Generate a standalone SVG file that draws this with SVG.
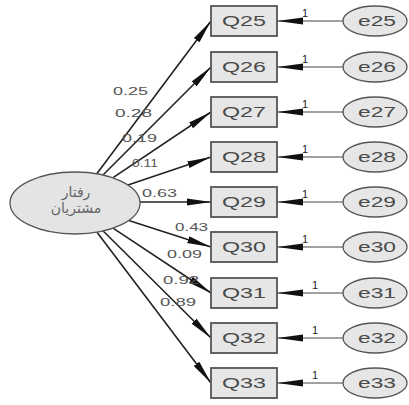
<svg xmlns="http://www.w3.org/2000/svg" width="409" height="405" viewBox="0 0 409 405">
<style>
.box{fill:#e6e6e6;stroke:#555;stroke-width:1.8}
.err{fill:#e6e6e6;stroke:#555;stroke-width:1.3}
.lat{fill:#e4e4e4;stroke:#555;stroke-width:1.3}
.t{font-family:"Liberation Sans",Arial,sans-serif;fill:#555}
.lbl{font-size:10px}
.one{font-size:11px;fill:#222}
.nm{font-size:14px;fill:#4a4a4a}
.fa{font-family:"DejaVu Sans","Noto Sans",sans-serif;font-size:14px;fill:#666;text-anchor:middle}
.pl{stroke:#222;stroke-width:1.6;fill:none;marker-end:url(#ah)}
.el{stroke:#444;stroke-width:1;fill:none;marker-end:url(#ah2)}
</style>
<defs>
<marker id="ah" markerUnits="userSpaceOnUse" markerWidth="26" markerHeight="8" refX="24" refY="4" orient="auto"><path d="M0,0.5 L24,4 L0,7.5 z" fill="#111"/></marker>
<marker id="ah2" markerUnits="userSpaceOnUse" markerWidth="28" markerHeight="8" refX="26" refY="4" orient="auto"><path d="M0,0.5 L26,4 L0,7.5 z" fill="#111"/></marker>
</defs>
<rect width="409" height="405" fill="#fff"/>
<g id="connectors">
<line class="pl" x1="96.8" y1="173.8" x2="211" y2="21"/>
<line class="pl" x1="103" y1="175" x2="211" y2="67"/>
<line class="pl" x1="112.7" y1="177.8" x2="211" y2="112"/>
<line class="pl" x1="128" y1="185.1" x2="211" y2="157"/>
<line class="pl" x1="140" y1="202" x2="211" y2="202"/>
<line class="pl" x1="128.8" y1="220.4" x2="211" y2="247"/>
<line class="pl" x1="113" y1="228.1" x2="211" y2="293"/>
<line class="pl" x1="103.2" y1="231" x2="211" y2="338"/>
<line class="pl" x1="97" y1="232.2" x2="211" y2="383"/>
<line class="el" x1="343" y1="21" x2="277" y2="21"/>
<line class="el" x1="343" y1="67" x2="277" y2="67"/>
<line class="el" x1="343" y1="112" x2="277" y2="112"/>
<line class="el" x1="343" y1="157" x2="277" y2="157"/>
<line class="el" x1="343" y1="202" x2="277" y2="202"/>
<line class="el" x1="343" y1="247" x2="277" y2="247"/>
<line class="el" x1="343" y1="293" x2="277" y2="293"/>
<line class="el" x1="343" y1="338" x2="277" y2="338"/>
<line class="el" x1="343" y1="383" x2="277" y2="383"/>
<g class="t lbl">
<text x="113" y="95" textLength="35" lengthAdjust="spacingAndGlyphs">0.25</text>
<text x="115" y="117" textLength="37" lengthAdjust="spacingAndGlyphs">0.28</text>
<text x="122" y="142" textLength="35" lengthAdjust="spacingAndGlyphs">0.19</text>
<text x="132" y="167" textLength="26" lengthAdjust="spacingAndGlyphs">0.11</text>
<text x="142" y="197" textLength="35" lengthAdjust="spacingAndGlyphs">0.63</text>
<text x="175" y="231" textLength="33" lengthAdjust="spacingAndGlyphs">0.43</text>
<text x="167" y="258" textLength="35" lengthAdjust="spacingAndGlyphs">0.09</text>
<text x="163" y="284" textLength="36" lengthAdjust="spacingAndGlyphs">0.92</text>
<text x="160" y="306" textLength="36" lengthAdjust="spacingAndGlyphs">0.89</text>
</g>
<g class="t one">
<text x="302" y="17">1</text>
<text x="302" y="63">1</text>
<text x="302" y="108">1</text>
<text x="302" y="153">1</text>
<text x="302" y="198">1</text>
<text x="302" y="243">1</text>
<text x="312" y="289">1</text>
<text x="312" y="334">1</text>
<text x="312" y="379">1</text>
</g>
</g>
<g id="latent"><ellipse class="lat" cx="75" cy="203" rx="65" ry="31"/><text class="fa" x="76" y="197">رفتار</text><text class="fa" x="76" y="213">مشتریان</text></g>
<g id="Q25"><rect class="box" x="211" y="6" width="66" height="30"/><text class="t nm" x="222" y="26" textLength="44" lengthAdjust="spacingAndGlyphs">Q25</text></g>
<g id="Q26"><rect class="box" x="211" y="52" width="66" height="30"/><text class="t nm" x="222" y="72" textLength="44" lengthAdjust="spacingAndGlyphs">Q26</text></g>
<g id="Q27"><rect class="box" x="211" y="97" width="66" height="30"/><text class="t nm" x="222" y="117" textLength="44" lengthAdjust="spacingAndGlyphs">Q27</text></g>
<g id="Q28"><rect class="box" x="211" y="142" width="66" height="30"/><text class="t nm" x="222" y="162" textLength="44" lengthAdjust="spacingAndGlyphs">Q28</text></g>
<g id="Q29"><rect class="box" x="211" y="187" width="66" height="30"/><text class="t nm" x="222" y="207" textLength="44" lengthAdjust="spacingAndGlyphs">Q29</text></g>
<g id="Q30"><rect class="box" x="211" y="232" width="66" height="30"/><text class="t nm" x="222" y="252" textLength="44" lengthAdjust="spacingAndGlyphs">Q30</text></g>
<g id="Q31"><rect class="box" x="211" y="278" width="66" height="30"/><text class="t nm" x="222" y="298" textLength="44" lengthAdjust="spacingAndGlyphs">Q31</text></g>
<g id="Q32"><rect class="box" x="211" y="323" width="66" height="30"/><text class="t nm" x="222" y="343" textLength="44" lengthAdjust="spacingAndGlyphs">Q32</text></g>
<g id="Q33"><rect class="box" x="211" y="368" width="66" height="30"/><text class="t nm" x="222" y="388" textLength="44" lengthAdjust="spacingAndGlyphs">Q33</text></g>
<g id="e25"><ellipse class="err" cx="375" cy="21" rx="32" ry="15"/><text class="t nm" x="358" y="26" textLength="38" lengthAdjust="spacingAndGlyphs">e25</text></g>
<g id="e26"><ellipse class="err" cx="375" cy="67" rx="32" ry="15"/><text class="t nm" x="358" y="72" textLength="38" lengthAdjust="spacingAndGlyphs">e26</text></g>
<g id="e27"><ellipse class="err" cx="375" cy="112" rx="32" ry="15"/><text class="t nm" x="358" y="117" textLength="38" lengthAdjust="spacingAndGlyphs">e27</text></g>
<g id="e28"><ellipse class="err" cx="375" cy="157" rx="32" ry="15"/><text class="t nm" x="358" y="162" textLength="38" lengthAdjust="spacingAndGlyphs">e28</text></g>
<g id="e29"><ellipse class="err" cx="375" cy="202" rx="32" ry="15"/><text class="t nm" x="358" y="207" textLength="38" lengthAdjust="spacingAndGlyphs">e29</text></g>
<g id="e30"><ellipse class="err" cx="375" cy="247" rx="32" ry="15"/><text class="t nm" x="358" y="252" textLength="38" lengthAdjust="spacingAndGlyphs">e30</text></g>
<g id="e31"><ellipse class="err" cx="375" cy="293" rx="32" ry="15"/><text class="t nm" x="358" y="298" textLength="38" lengthAdjust="spacingAndGlyphs">e31</text></g>
<g id="e32"><ellipse class="err" cx="375" cy="338" rx="32" ry="15"/><text class="t nm" x="358" y="343" textLength="38" lengthAdjust="spacingAndGlyphs">e32</text></g>
<g id="e33"><ellipse class="err" cx="375" cy="383" rx="32" ry="15"/><text class="t nm" x="358" y="388" textLength="38" lengthAdjust="spacingAndGlyphs">e33</text></g>
</svg>
